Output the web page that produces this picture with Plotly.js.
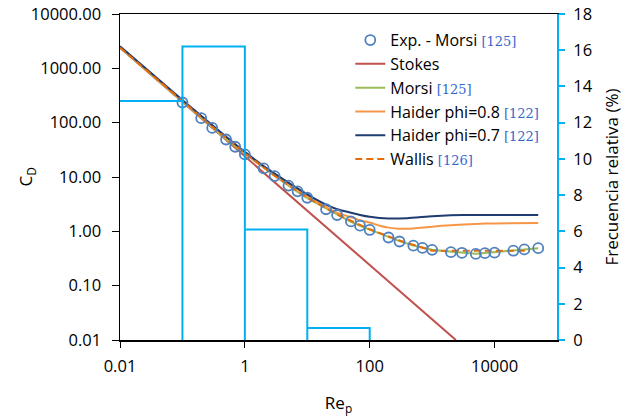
<!DOCTYPE html>
<html>
<head>
<meta charset="utf-8">
<script src="https://cdn.plot.ly/plotly-3.0.1.min.js"></script>
<style>html,body{margin:0;padding:0;background:#fff;}#chart{width:623px;height:420px;}</style>
</head>
<body>
<div id="chart"></div>
<script>
// Experimental data (Morsi)
const reExp = [0.1,0.2,0.3,0.5,0.7,1,2,3,5,7,10,20,30,50,70,100,200,300,500,700,1000,2000,3000,5000,7000,10000,20000,30000,50000];
const cdExp = [235,121,80,49,36,26,14.4,10.4,6.95,5.45,4.15,2.55,2.0,1.52,1.27,1.06,0.77,0.65,0.545,0.495,0.457,0.413,0.403,0.385,0.398,0.405,0.44,0.465,0.49];

// Stokes
const reStokes = [0.01,0.1,1,10,100,1000,2400];
const cdStokes = [2400,240,24,2.4,0.24,0.024,0.01];

// Morsi correlation
const reMorsi = [0.01,0.03,0.1,0.2,0.3,0.5,0.7,1,1.5,2,3,5,7,10,15,20,30,50,70,100,150,200,300,500,700,1000,1500,2000,3000,5000,7000,10000,20000,30000,50000];
const cdMorsi = [2400,800,240,119.6,80.5,49.5,36.3,26.5,18.9,14.8,10.5,6.9,5.31,4.1,3.2,2.65,2.04,1.5,1.26,1.07,0.9,0.79,0.66,0.55,0.5,0.46,0.435,0.42,0.4,0.385,0.4,0.417,0.449,0.47,0.488];

// Haider phi=0.8
const reH08 = [0.01,0.1,1,3,10,20,30,50,70,100,150,200,300,500,1000,2000,5000,10000,50000];
const cdH08 = [2450,250,27.5,10.9,4.4,2.8,2.2,1.82,1.6,1.45,1.25,1.17,1.12,1.13,1.22,1.3,1.37,1.4,1.42];

// Haider phi=0.7
const reH07 = [0.01,0.1,1,3,10,20,30,50,70,100,200,400,1000,2000,5000,10000,50000];
const cdH07 = [2550,262,29,11.5,4.8,3.1,2.55,2.2,2.0,1.85,1.72,1.75,1.9,1.97,2.0,2.0,2.0];

// Wallis
const reWallis = [0.01,0.1,0.3,1,3,10,30,100,300,1000,3000,10000,37000];
const cdWallis = [2415,247,85,27.6,10.55,4.15,2.04,1.09,0.68,0.44,0.44,0.44,0.44];

// Histogram (relative frequency, %)
const binEdges = [0.01,0.1,1,10,100];
const binFreq = [13.2,16.2,6.1,0.66];

// Tick labels
const xTickVals = [0.01,1,100,10000];
const xTickText = ['0.01','1','100','10000'];
const yTickVals = [0.01,0.1,1,10,100,1000,10000];
const yTickText = ['0.01','0.10','1.00','10.00','100.00','1000.00','10000.00'];

// Build histogram outline path from bins
const hx = [], hy = [];
for (let i = 0; i < binFreq.length; i++) {
  const a = binEdges[i], b = binEdges[i+1], f = binFreq[i];
  if (i === 0) { hx.push(a); hy.push(f); }
  else { hx.push(a); hy.push(0); hx.push(a); hy.push(f); }
  hx.push(b); hy.push(f);
  hx.push(b); hy.push(0);
}

const ref = (n) => ' <span style="font-family:\'DejaVu Serif\';color:#3565CF;font-size:13px">[' + n + ']</span>';
const FONT = 'Open Sans, sans-serif';

const traces = [
  {x: reStokes, y: cdStokes, type: 'scatter', mode: 'lines', name: 'Stokes', legendrank: 2,
   line: {color: '#C0504D', width: 2}},
  {x: reMorsi, y: cdMorsi, type: 'scatter', mode: 'lines', name: 'Morsi' + ref(125), legendrank: 3,
   line: {color: '#9BBB59', width: 2}},
  {x: reH08, y: cdH08, type: 'scatter', mode: 'lines', name: 'Haider phi=0.8' + ref(122), legendrank: 4,
   line: {color: '#F79646', width: 2, shape: 'spline', smoothing: 0.5}},
  {x: reH07, y: cdH07, type: 'scatter', mode: 'lines', name: 'Haider phi=0.7' + ref(122), legendrank: 5,
   line: {color: '#1F3B70', width: 2, shape: 'spline', smoothing: 0.5}},
  {x: reWallis, y: cdWallis, type: 'scatter', mode: 'lines', name: 'Wallis' + ref(126), legendrank: 6,
   line: {color: '#E46C0A', width: 2, dash: '7px,4px'}},
  {x: reExp, y: cdExp, type: 'scatter', mode: 'markers', name: 'Exp. - Morsi' + ref(125), legendrank: 1,
   marker: {symbol: 'circle-open', size: 10, color: '#4F81BD', line: {width: 1.8, color: '#4F81BD'}}},
  {x: hx, y: hy, type: 'scatter', mode: 'lines', yaxis: 'y2', showlegend: false,
   line: {color: '#00B0F0', width: 2}}
];

const layout = {
  width: 623, height: 420,
  margin: {l: 120, r: 66, t: 14, b: 80},
  paper_bgcolor: '#fff', plot_bgcolor: '#fff',
  font: {family: FONT, size: 16, color: '#000'},
  showlegend: true,
  legend: {x: 0.527, y: 0.972, xanchor: 'left', yanchor: 'top', bgcolor: 'rgba(0,0,0,0)',
    font: {family: FONT, size: 16, color: '#000'}, traceorder: 'normal', tracegroupgap: 0},
  xaxis: {type: 'log', range: [-2, 5], tickmode: 'array', tickvals: xTickVals, ticktext: xTickText,
    ticks: 'outside', ticklen: 6, tickcolor: '#000', showline: true, linecolor: '#000', linewidth: 1.5,
    mirror: true, showgrid: false, zeroline: false, tickfont: {size: 16.5}, ticklabelstandoff: 5,
    title: {text: 'Re<sub>p</sub>', font: {size: 17}, standoff: 21}},
  yaxis: {type: 'log', range: [-2, 4], tickmode: 'array', tickvals: yTickVals, ticktext: yTickText,
    ticks: 'outside', ticklen: 7, tickcolor: '#000', showline: true, linecolor: '#000', linewidth: 1.5,
    showgrid: false, zeroline: false, tickfont: {size: 16.5}, ticklabelstandoff: 7},
  yaxis2: {overlaying: 'y', side: 'right', range: [0, 18], tickmode: 'linear', tick0: 0, dtick: 2,
    ticks: 'outside', ticklen: 6, tickcolor: '#00B0F0', tickwidth: 2, showline: true, linecolor: '#00B0F0', linewidth: 2,
    showgrid: false, zeroline: false, tickfont: {size: 16.5}, ticklabelstandoff: 5,
    title: {text: 'Frecuencia relativa (%)', font: {size: 17}, standoff: 14}},
  annotations: [
    {text: 'C<sub>D</sub>', xref: 'paper', yref: 'paper', x: -0.214, y: 0.5, xanchor: 'center', yanchor: 'middle',
     textangle: -90, showarrow: false, font: {size: 17}}
  ]
};

Plotly.newPlot('chart', traces, layout, {staticPlot: true, displayModeBar: false});
</script>
</body>
</html>
